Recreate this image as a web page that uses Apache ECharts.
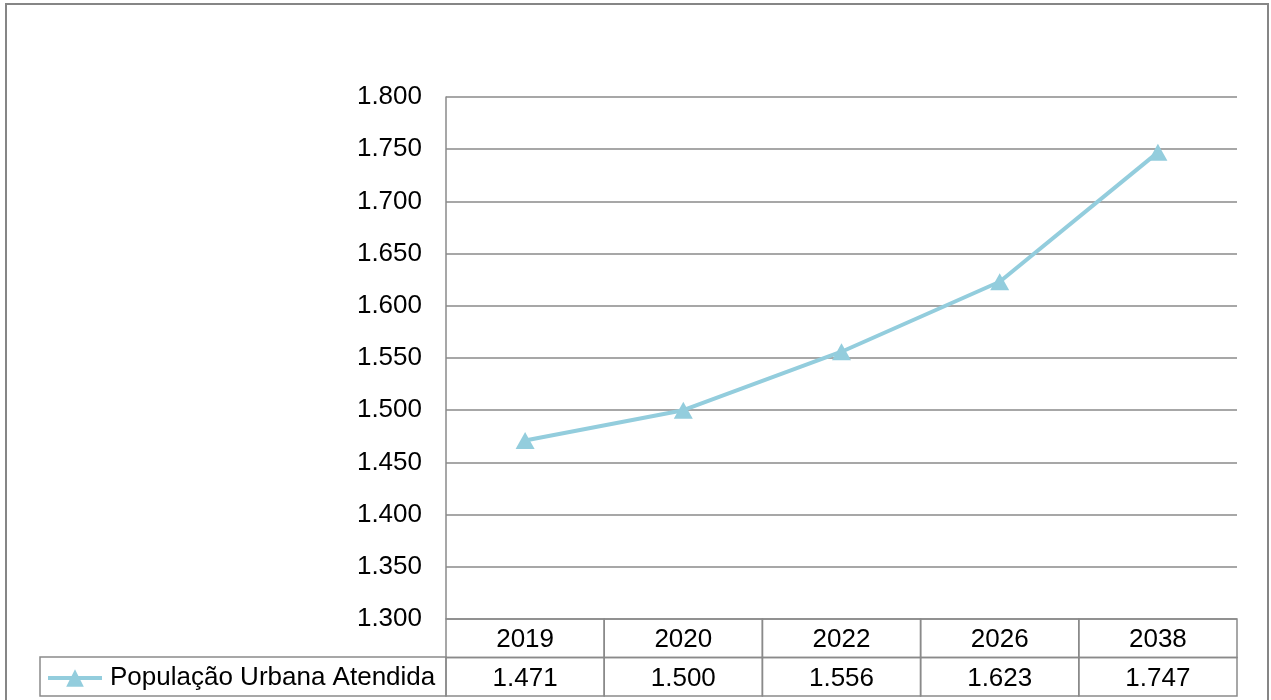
<!DOCTYPE html>
<html>
<head>
<meta charset="utf-8">
<style>
  html, body { margin: 0; padding: 0; background: #fff; }
  #chart { width: 1271px; height: 700px; }
</style>
<script src="https://cdn.jsdelivr.net/npm/echarts@6/dist/echarts.min.js"></script>
</head>
<body>
<div id="chart"></div>
<script>
// Urban population served, by projection year
const years = ['2019', '2020', '2022', '2026', '2038'];
const populacao = [1471, 1500, 1556, 1623, 1747];
const seriesName = 'População Urbana Atendida';
const yMin = 1300, yMax = 1800, yStep = 50;

const FONT = '"Liberation Sans", Arial, sans-serif';
const FONT_SIZE = 26;
const GRID_GRAY = '#8a8a8a';
const LINE_BLUE = '#93cddd';

// pt-BR style thousands separator: 1471 -> "1.471"
function fmt(v) {
  const t = Math.floor(v / 1000);
  const r = String(Math.round(v % 1000)).padStart(3, '0');
  return t + '.' + r;
}

// Data table cells: row 0 = year header, row 1 = series values
const tableCells = [];
years.forEach((y, i) => {
  tableCells.push([i, 0, y]);
  tableCells.push([i, 1, fmt(populacao[i])]);
});

const chart = echarts.init(document.getElementById('chart'), null, { renderer: 'canvas' });

const left = 446, right = 1271 - 1237;

chart.setOption({
  animation: false,
  backgroundColor: '#fff',
  textStyle: { fontFamily: FONT },
  grid: [
    { left: left, right: right, top: 97, bottom: 700 - 619 },
    { left: left, right: right, top: 619, bottom: 700 - 696 }
  ],
  xAxis: [
    {
      gridIndex: 0, type: 'category', data: years, boundaryGap: true,
      axisLine: { show: false }, axisTick: { show: false }, axisLabel: { show: false },
      splitLine: { show: false }
    },
    {
      gridIndex: 1, type: 'category', data: years, boundaryGap: true,
      axisLine: { show: false }, axisTick: { show: false }, axisLabel: { show: false },
      splitLine: { show: false }
    }
  ],
  yAxis: [
    {
      gridIndex: 0, type: 'value', min: yMin, max: yMax, interval: yStep,
      axisLine: { show: true, lineStyle: { color: GRID_GRAY, width: 1.5 } },
      axisTick: { show: false },
      axisLabel: {
        formatter: fmt, color: '#000', fontSize: FONT_SIZE, fontFamily: FONT, margin: 24
      },
      splitLine: { show: true, lineStyle: { color: GRID_GRAY, width: 1.5 } }
    },
    {
      gridIndex: 1, type: 'category', data: ['anos', 'valores'], inverse: true,
      axisLine: { show: false }, axisTick: { show: false }, axisLabel: { show: false },
      splitLine: { show: false }
    }
  ],
  legend: {
    data: [seriesName],
    left: 46, top: 665,
    padding: 0,
    itemWidth: 54, itemHeight: 22, itemGap: 0,
    lineStyle: { width: 4, color: LINE_BLUE },
    textStyle: { fontSize: FONT_SIZE, fontFamily: FONT, color: '#000', padding: [0, 0, 0, 3] }
  },
  graphic: [
    // outer chart frame
    { type: 'rect', shape: { x: 6, y: 4, width: 1262, height: 720 },
      style: { fill: 'none', stroke: '#868686', lineWidth: 2 }, silent: true },
    // legend key cell of the data table
    { type: 'rect', shape: { x: 40, y: 657, width: left - 40, height: 39 },
      style: { fill: 'none', stroke: GRID_GRAY, lineWidth: 1.5 }, silent: true, z: 10 }
  ],
  series: [
    {
      name: seriesName,
      type: 'line',
      xAxisIndex: 0, yAxisIndex: 0,
      data: populacao,
      symbol: 'triangle',
      symbolSize: [19, 17],
      lineStyle: { color: LINE_BLUE, width: 4 },
      itemStyle: { color: LINE_BLUE },
      z: 5
    },
    {
      type: 'custom',
      xAxisIndex: 1, yAxisIndex: 1,
      data: tableCells,
      silent: true,
      renderItem: function (params, api) {
        const c = api.coord([api.value(0), api.value(1)]);
        const s = api.size([1, 1]);
        const text = tableCells[params.dataIndex][2];
        return {
          type: 'group',
          children: [
            { type: 'rect',
              shape: { x: c[0] - s[0] / 2, y: c[1] - s[1] / 2, width: s[0], height: s[1] },
              style: { fill: 'none', stroke: GRID_GRAY, lineWidth: 1.5 } },
            { type: 'text',
              style: { x: c[0], y: c[1] + 2, text: text, align: 'center', verticalAlign: 'middle',
                       fill: '#000', font: FONT_SIZE + 'px ' + FONT } }
          ]
        };
      }
    }
  ]
});
</script>
</body>
</html>
